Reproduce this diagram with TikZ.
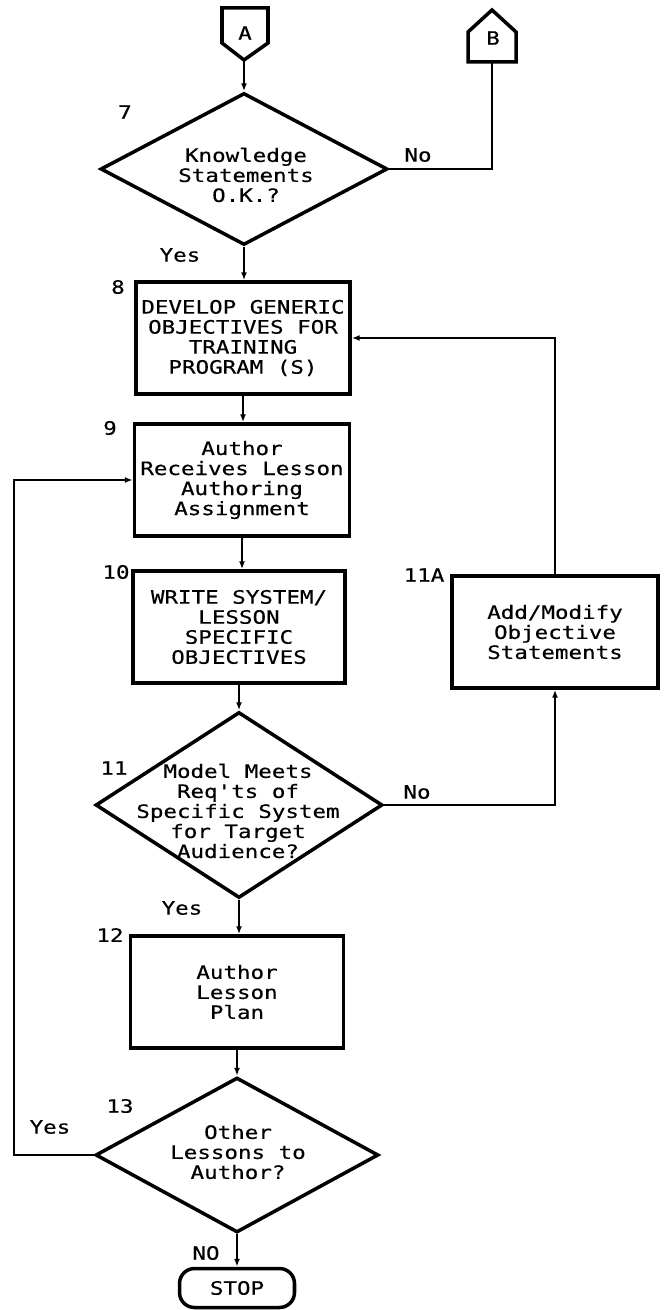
\documentclass[tikz,border=0pt]{standalone}
\usepackage{fontspec}
\newfontfamily\plotter[FakeStretch=1.22,FakeBold=0.4]{DejaVu Sans Mono}
\usetikzlibrary{arrows.meta,shapes.geometric}

\begin{document}
\begin{tikzpicture}[x=0.02cm,y=-0.02cm,
  font=\plotter\fontsize{10.5}{11.4}\selectfont,
  box/.style={draw,line width=2pt,minimum width=#1,minimum height=2.24cm,align=center,inner sep=0pt},
  decision/.style={draw,diamond,line width=2pt,inner sep=0pt},
  flow/.style={line width=0.9pt,-{Latex[length=1.6mm,width=1.2mm]}},
  plain/.style={line width=0.9pt},
  outline/.style={line width=2pt,line join=miter}]
\useasboundingbox (0,0) rectangle (665,1310);

\coordinate[] (A1) at (222,8);
\coordinate[] (A2) at (268,8);
\coordinate[] (A3) at (268,43);
\coordinate[] (A4) at (244,60);
\coordinate[] (A5) at (222,43);
\coordinate[] (B1) at (468,62);
\coordinate[] (B2) at (468,32);
\coordinate[] (B3) at (492,10);
\coordinate[] (B4) at (516,32);
\coordinate[] (B5) at (516,62);
\coordinate[] (B6) at (492,62);
\coordinate[] (R) at (14,0);

\draw [outline] (A1)--(A2)--(A3)--(A4)--(A5)--cycle;
\draw [outline] (B1)--(B2)--(B3)--(B4)--(B5)--cycle;
\node (conA) at (245,33) {A};
\node (conB) at (493,38) {B};

\node[decision,minimum width=5.74cm,minimum height=3.04cm] (Q7) at (244,169) {};
\node[align=center] (Q7t) at (246,175) {Knowledge\\Statements\\O.K.?};
\node[box=4.28cm] (P8) at (243,338) {DEVELOP GENERIC\\OBJECTIVES FOR\\TRAINING\\PROGRAM (S)};
\node[box=4.3cm] (P9) at (242,480) {Author\\Receives Lesson\\Authoring\\Assignment};
\node[box=4.24cm] (P10) at (239,627) {WRITE SYSTEM/\\LESSON\\SPECIFIC\\OBJECTIVES};
\node[box=4.12cm] (P11A) at (555,632) {Add/Modify\\Objective\\Statements};
\node[decision,minimum width=5.74cm,minimum height=3.72cm] (Q11) at (239,805) {};
\node[align=center] (Q11t) at (238,811) {Model Meets\\Req'ts of\\Specific System\\for Target\\Audience?};
\node[box=4.26cm] (P12) at (237,992) {Author\\Lesson\\Plan};
\node[decision,minimum width=5.66cm,minimum height=3.1cm] (Q13) at (237,1155) {};
\node[align=center] (Q13t) at (238,1152) {Other\\Lessons to\\Author?};
\node[draw,line width=2pt,rounded corners=0.3cm,minimum width=2.3cm,minimum height=0.78cm] (Stop) at (237,1288) {STOP};

\draw [flow] (A4) -- (Q7.north);
\draw [plain] (Q7.east) -| (B6);
\draw [flow] (Q7.south) -- (Q7.south |- P8.north);
\draw [flow] (P8.south) -- (P8.south |- P9.north);
\draw [flow] (P9.south) -- (P9.south |- P10.north);
\draw [flow] (P10.south) -- (Q11.north);
\draw [flow] (Q11.east) -| (P11A.south);
\draw [flow] (P11A.north) |- (P8.east);
\draw [flow] (Q11.south) -- (Q11.south |- P12.north);
\draw [flow] (P12.south) -- (Q13.north);
\draw [flow] (Q13.west) -- (Q13.west -| R) |- (P9.west);
\draw [flow] (Q13.south) -- (Stop.north);

\node (n7) at (125,112) {7};
\node (n8) at (118,287) {8};
\node (n9) at (110,428) {9};
\node (n10) at (116,572) {10};
\node (n11A) at (424,575) {11A};
\node (n11) at (114,768) {11};
\node (n12) at (110,935) {12};
\node (n13) at (120,1106) {13};
\node (no7) at (418,155) {No};
\node (yes7) at (180,255) {Yes};
\node (no11) at (417,792) {No};
\node (yes11) at (182,908) {Yes};
\node (yes13) at (50,1127) {Yes};
\node (no13) at (206,1253) {NO};
\end{tikzpicture}
\end{document}
